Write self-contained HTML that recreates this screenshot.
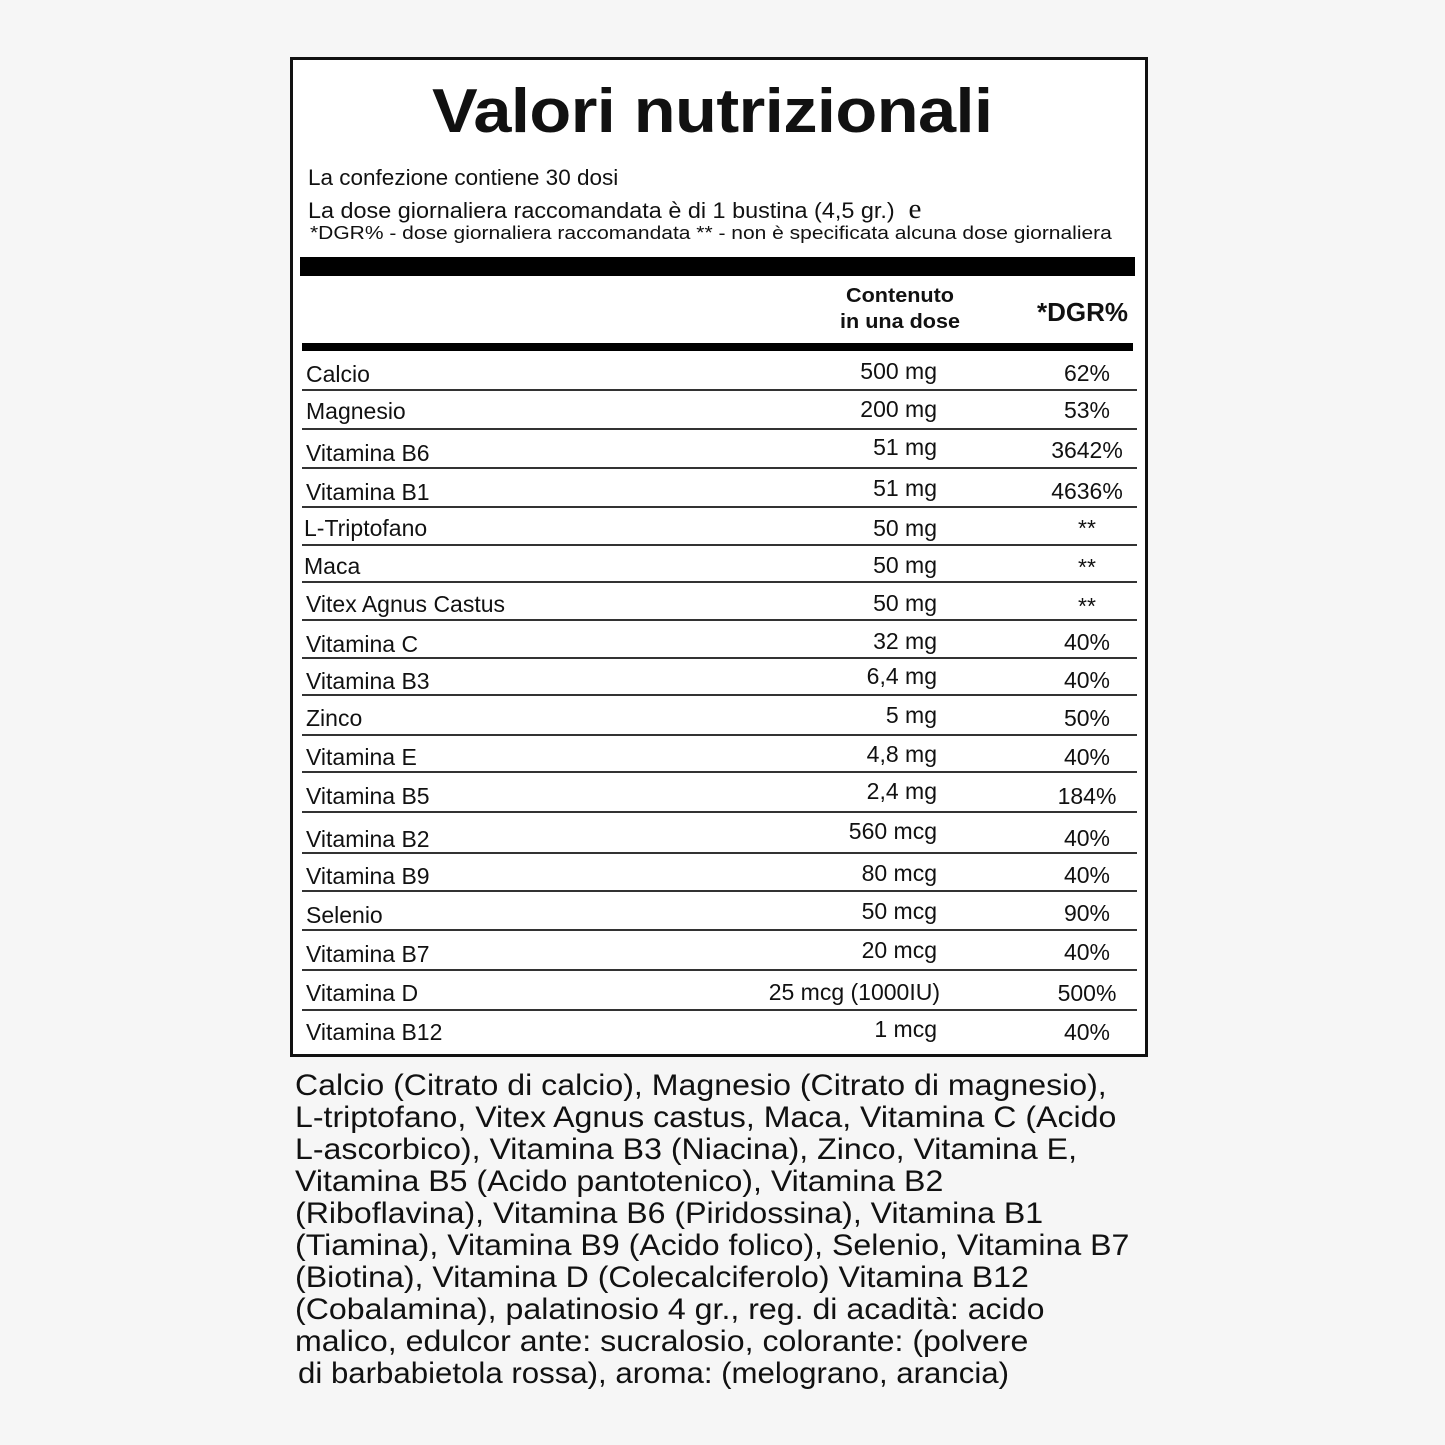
<!DOCTYPE html>
<html><head><meta charset="utf-8"><style>
body{margin:0;background:#f6f6f6;}
#c{position:relative;width:1445px;height:1445px;font-family:"Liberation Sans",sans-serif;color:#111;overflow:hidden}
.box{position:absolute;left:290px;top:57px;width:852px;height:994px;border:3px solid #111;background:#fff}
.t{position:absolute;white-space:nowrap}
.ln{position:absolute;left:302px;width:835px;height:1.5px;background:#333}
.n{position:absolute;left:306px;font-size:23px;white-space:nowrap}
.v{position:absolute;right:508px;font-size:23px;white-space:nowrap;text-align:right}
.d{position:absolute;left:1037px;width:100px;font-size:23px;white-space:nowrap;text-align:center}
.ing{position:absolute;left:295px;font-size:30px;white-space:nowrap;line-height:1;transform:scaleX(1.07);transform-origin:left}
</style></head><body><div id="c">
<div class="box"></div>
<div class="t" style="left:432px;top:76px;font-size:62px;font-weight:900;letter-spacing:-0.5px;transform:scaleX(1.105);transform-origin:left">Valori nutrizionali</div>
<div class="t" style="left:308px;top:165px;font-size:22.5px">La confezione contiene 30 dosi</div>
<div class="t" style="left:308px;top:194px;font-size:22.5px;transform:scaleX(1.04);transform-origin:left">La dose giornaliera raccomandata è di 1 bustina (4,5 gr.) <span style="font-family:'Liberation Serif';font-size:28px">&nbsp;e</span></div>
<div class="t" style="left:310px;top:222px;font-size:18.5px;transform:scaleX(1.135);transform-origin:left">*DGR% - dose giornaliera raccomandata ** - non è specificata alcuna dose giornaliera</div>
<div style="position:absolute;left:300px;top:257px;width:835px;height:19px;background:#000"></div>
<div class="t" style="left:840px;top:283px;font-size:20px;font-weight:bold;line-height:26px;text-align:center;transform:scaleX(1.08);transform-origin:left">Contenuto<br>in una dose</div>
<div class="t" style="left:1037px;top:297px;font-size:26px;font-weight:bold">*DGR%</div>
<div style="position:absolute;left:302px;top:343px;width:831px;height:8px;background:#000"></div>
<div class="ln" style="top:389px"></div>
<div class="ln" style="top:428px"></div>
<div class="ln" style="top:467px"></div>
<div class="ln" style="top:506px"></div>
<div class="ln" style="top:544px"></div>
<div class="ln" style="top:581px"></div>
<div class="ln" style="top:619px"></div>
<div class="ln" style="top:657px"></div>
<div class="ln" style="top:694px"></div>
<div class="ln" style="top:734px"></div>
<div class="ln" style="top:771px"></div>
<div class="ln" style="top:811px"></div>
<div class="ln" style="top:852px"></div>
<div class="ln" style="top:890px"></div>
<div class="ln" style="top:929px"></div>
<div class="ln" style="top:969px"></div>
<div class="ln" style="top:1009px"></div>
<div class="n" style="top:361px">Calcio</div><div class="v" style="top:358px">500 mg</div><div class="d" style="top:360px">62%</div>
<div class="n" style="top:398px">Magnesio</div><div class="v" style="top:396px">200 mg</div><div class="d" style="top:397px">53%</div>
<div class="n" style="top:440px">Vitamina B6</div><div class="v" style="top:434px">51 mg</div><div class="d" style="top:437px">3642%</div>
<div class="n" style="top:479px">Vitamina B1</div><div class="v" style="top:475px">51 mg</div><div class="d" style="top:478px">4636%</div>
<div class="n" style="top:515px;left:304px">L-Triptofano</div><div class="v" style="top:515px">50 mg</div><div class="d" style="top:515px">**</div>
<div class="n" style="top:553px;left:304px">Maca</div><div class="v" style="top:552px">50 mg</div><div class="d" style="top:554px">**</div>
<div class="n" style="top:591px">Vitex Agnus Castus</div><div class="v" style="top:590px">50 mg</div><div class="d" style="top:593px">**</div>
<div class="n" style="top:631px">Vitamina C</div><div class="v" style="top:628px">32 mg</div><div class="d" style="top:629px">40%</div>
<div class="n" style="top:668px">Vitamina B3</div><div class="v" style="top:663px">6,4 mg</div><div class="d" style="top:667px">40%</div>
<div class="n" style="top:705px">Zinco</div><div class="v" style="top:702px">5 mg</div><div class="d" style="top:705px">50%</div>
<div class="n" style="top:744px">Vitamina E</div><div class="v" style="top:741px">4,8 mg</div><div class="d" style="top:744px">40%</div>
<div class="n" style="top:783px">Vitamina B5</div><div class="v" style="top:778px">2,4 mg</div><div class="d" style="top:783px">184%</div>
<div class="n" style="top:826px">Vitamina B2</div><div class="v" style="top:818px">560 mcg</div><div class="d" style="top:825px">40%</div>
<div class="n" style="top:863px">Vitamina B9</div><div class="v" style="top:860px">80 mcg</div><div class="d" style="top:862px">40%</div>
<div class="n" style="top:902px">Selenio</div><div class="v" style="top:898px">50 mcg</div><div class="d" style="top:900px">90%</div>
<div class="n" style="top:941px">Vitamina B7</div><div class="v" style="top:937px">20 mcg</div><div class="d" style="top:939px">40%</div>
<div class="n" style="top:980px">Vitamina D</div><div class="v" style="top:979px;right:505px">25 mcg (1000IU)</div><div class="d" style="top:980px">500%</div>
<div class="n" style="top:1019px">Vitamina B12</div><div class="v" style="top:1016px">1 mcg</div><div class="d" style="top:1019px">40%</div>
<div class="ing" style="top:1071px">Calcio (Citrato di calcio), Magnesio (Citrato di magnesio),</div>
<div class="ing" style="top:1103px">L-triptofano, Vitex Agnus castus, Maca, Vitamina C (Acido</div>
<div class="ing" style="top:1135px">L-ascorbico), Vitamina B3 (Niacina), Zinco, Vitamina E,</div>
<div class="ing" style="top:1167px">Vitamina B5 (Acido pantotenico), Vitamina B2</div>
<div class="ing" style="top:1199px">(Riboflavina), Vitamina B6 (Piridossina), Vitamina B1</div>
<div class="ing" style="top:1231px">(Tiamina), Vitamina B9 (Acido folico), Selenio, Vitamina B7</div>
<div class="ing" style="top:1263px">(Biotina), Vitamina D (Colecalciferolo) Vitamina B12</div>
<div class="ing" style="top:1295px">(Cobalamina), palatinosio 4 gr., reg. di acadità: acido</div>
<div class="ing" style="top:1327px">malico, edulcor ante: sucralosio, colorante: (polvere</div>
<div class="ing" style="top:1359px;left:298px;transform:scaleX(1.04)">di barbabietola rossa), aroma: (melograno, arancia)</div>
</div></body></html>
